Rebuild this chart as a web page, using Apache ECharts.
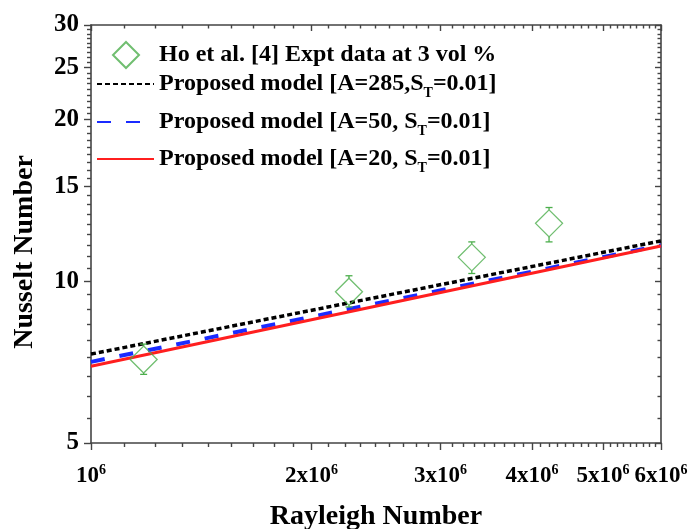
<!DOCTYPE html>
<html>
<head>
<meta charset="utf-8">
<script src="https://cdn.jsdelivr.net/npm/echarts@6/dist/echarts.min.js"></script>
<style>
html,body{margin:0;padding:0;background:#fff;}
#chart{width:689px;height:529px;}
</style>
</head>
<body>
<div id="chart"></div>
<script>
// ---- tick labels ----
const xMajor = [1e6, 2e6, 3e6, 4e6, 5e6, 6e6];
const yMajor = [5, 10, 15, 20, 25, 30];
const minorPerInterval = 8;

// ---- experimental data (Ho et al.) ----
const rayleighExpt = [1.18e6, 2.25e6, 3.31e6, 4.22e6];
const nusseltExpt = [7.15, 9.56, 11.08, 12.82];
const nusseltErrLow = [6.71, 8.96, 10.34, 11.84];
const nusseltErrHigh = [7.64, 10.24, 11.84, 13.72];

// ---- model lines ----
const rayleighModel = [1e6, 6e6];
const nuA285 = [7.32, 11.89];
const nuA50 = [7.08, 11.67];
const nuA20 = [6.95, 11.63];

const seriesNames = [
  'Ho et al. [4] Expt data at 3 vol %',
  'Proposed model [A=285,S{t|T}=0.01]',
  'Proposed model [A=50, S{t|T}=0.01]',
  'Proposed model [A=20, S{t|T}=0.01]'
];

function minorTicks(major, n) {
  const out = [];
  for (let i = 0; i < major.length - 1; i++) {
    const step = (major[i + 1] - major[i]) / (n + 1);
    for (let k = 1; k <= n; k++) out.push(major[i] + k * step);
  }
  return out;
}
const xMinor = minorTicks(xMajor, minorPerInterval);
const yMinor = minorTicks(yMajor, minorPerInterval);

const FONT = 'Liberation Serif';
const AXIS_COLOR = '#444';
const GREEN = '#4cae4c';

function xFmt(v) {
  const m = Math.round(v / 1e6);
  return m === 1 ? '10{s|6}' : m + 'x10{s|6}';
}

function makeX(position, showLine, ticks, len, inside, labels) {
  return {
    type: 'log', position: position, min: xMajor[0], max: xMajor[xMajor.length - 1],
    gridIndex: 0,
    axisLine: { show: showLine, lineStyle: { color: AXIS_COLOR, width: 1.6 } },
    axisTick: { show: true, customValues: ticks, length: len, inside: inside,
      lineStyle: { color: AXIS_COLOR, width: 1.4 } },
    axisLabel: labels ? {
      show: true, customValues: xMajor, formatter: xFmt, margin: 20,
      color: '#000', fontFamily: FONT, fontWeight: 'bold', fontSize: 23, lineHeight: 26,
      rich: { s: { fontFamily: FONT, fontWeight: 'bold', fontSize: 14, verticalAlign: 'top', lineHeight: 14, color: '#000' } }
    } : { show: false },
    splitLine: { show: false }, minorTick: { show: false }
  };
}
function makeY(position, showLine, ticks, len, inside, labels) {
  return {
    type: 'log', position: position, min: yMajor[0], max: yMajor[yMajor.length - 1],
    gridIndex: 0,
    axisLine: { show: showLine, lineStyle: { color: AXIS_COLOR, width: 1.6 } },
    axisTick: { show: true, customValues: ticks, length: len, inside: inside,
      lineStyle: { color: AXIS_COLOR, width: 1.4 } },
    axisLabel: labels ? {
      show: true, customValues: yMajor, formatter: v => String(Math.round(v)), margin: 12,
      color: '#000', fontFamily: FONT, fontWeight: 'bold', fontSize: 25
    } : { show: false },
    splitLine: { show: false }, minorTick: { show: false }
  };
}

const xAxes = [
  makeX('bottom', true, xMajor, 7, false, true),
  makeX('bottom', false, xMinor, 4, false, false),
  makeX('top', true, xMajor, 6, true, false),
  makeX('top', false, xMinor, 3.5, true, false)
];
Object.assign(xAxes[0], {
  name: 'Rayleigh Number', nameLocation: 'middle', nameGap: 60,
  nameTextStyle: { fontFamily: FONT, fontWeight: 'bold', fontSize: 28, color: '#000' }
});
const yAxes = [
  makeY('left', true, yMajor, 7, false, true),
  makeY('left', false, yMinor, 4, false, false),
  makeY('right', true, yMajor, 6, true, false),
  makeY('right', false, yMinor, 3.5, true, false)
];
Object.assign(yAxes[0], {
  name: 'Nusselt Number', nameLocation: 'middle', nameGap: 52,
  nameTextStyle: { fontFamily: FONT, fontWeight: 'bold', fontSize: 28, color: '#000', padding: [0, 36, 0, 0] }
});

function legendText(padLeft) {
  return {
    fontFamily: FONT, fontWeight: 'bold', fontSize: 24, color: '#000', lineHeight: 26,
    padding: [0, 0, 0, padLeft],
    rich: { t: { fontFamily: FONT, fontWeight: 'bold', fontSize: 14, verticalAlign: 'bottom', lineHeight: 26, color: '#000', padding: [0, 0, -3, 0] } }
  };
}
function lineLegend(name, top) {
  return {
    data: [name], orient: 'vertical', left: 96, top: top, padding: 0,
    itemWidth: 57, itemHeight: 26, textStyle: legendText(0), selectedMode: false,
    itemStyle: { color: 'rgba(0,0,0,0)', borderWidth: 0, opacity: 0 }
  };
}

const chart = echarts.init(document.getElementById('chart'), null, { renderer: 'canvas' });
chart.setOption({
  animation: false,
  backgroundColor: '#fff',
  grid: { left: 91, right: 28, top: 25, bottom: 86, containLabel: false, outerBoundsMode: 'none' },
  xAxis: xAxes,
  yAxis: yAxes,
  legend: [
    {
      data: [seriesNames[0]], orient: 'vertical', left: 112, top: 41, padding: 0,
      itemWidth: 26, itemHeight: 26, textStyle: legendText(15), selectedMode: false
    },
    lineLegend(seriesNames[1], 71),
    lineLegend(seriesNames[2], 109),
    lineLegend(seriesNames[3], 146)
  ],
  series: [
    {
      name: seriesNames[0], type: 'scatter', xAxisIndex: 0, yAxisIndex: 0,
      symbol: 'diamond', symbolSize: 27,
      itemStyle: { color: 'rgba(0,0,0,0)', borderColor: GREEN, borderWidth: 1.3 },
      data: rayleighExpt.map((x, i) => [x, nusseltExpt[i]]),
      z: 3
    },
    {
      type: 'custom', xAxisIndex: 0, yAxisIndex: 0, silent: true,
      data: rayleighExpt.map((x, i) => [x, nusseltErrLow[i], nusseltErrHigh[i], nusseltExpt[i]]),
      renderItem: function (params, api) {
        const x = api.value(0);
        const lo = api.coord([x, api.value(1)]);
        const hi = api.coord([x, api.value(2)]);
        const c = api.coord([x, api.value(3)]);
        const half = 13.5, cap = 3.5;
        const st = { stroke: GREEN, lineWidth: 1.3 };
        return {
          type: 'group', children: [
            { type: 'line', shape: { x1: hi[0], y1: hi[1], x2: hi[0], y2: c[1] - half }, style: st },
            { type: 'line', shape: { x1: lo[0], y1: c[1] + half, x2: lo[0], y2: lo[1] }, style: st },
            { type: 'line', shape: { x1: hi[0] - cap, y1: hi[1], x2: hi[0] + cap, y2: hi[1] }, style: st },
            { type: 'line', shape: { x1: lo[0] - cap, y1: lo[1], x2: lo[0] + cap, y2: lo[1] }, style: st }
          ]
        };
      },
      z: 3
    },
    {
      name: seriesNames[1], type: 'line', xAxisIndex: 0, yAxisIndex: 0, symbol: 'none',
      lineStyle: { color: '#000', width: 3.5, type: [5, 3] }, itemStyle: { color: '#000' },
      data: rayleighModel.map((x, i) => [x, nuA285[i]]), z: 2
    },
    {
      name: seriesNames[2], type: 'line', xAxisIndex: 0, yAxisIndex: 0, symbol: 'none',
      lineStyle: { color: '#1a2bff', width: 4, type: [14, 15] }, itemStyle: { color: '#1a2bff' },
      data: rayleighModel.map((x, i) => [x, nuA50[i]]), z: 2
    },
    {
      name: seriesNames[3], type: 'line', xAxisIndex: 0, yAxisIndex: 0, symbol: 'none',
      lineStyle: { color: '#ff1f1f', width: 3 }, itemStyle: { color: '#ff1f1f' },
      data: rayleighModel.map((x, i) => [x, nuA20[i]]), z: 2
    }
  ]
});
</script>
</body>
</html>
